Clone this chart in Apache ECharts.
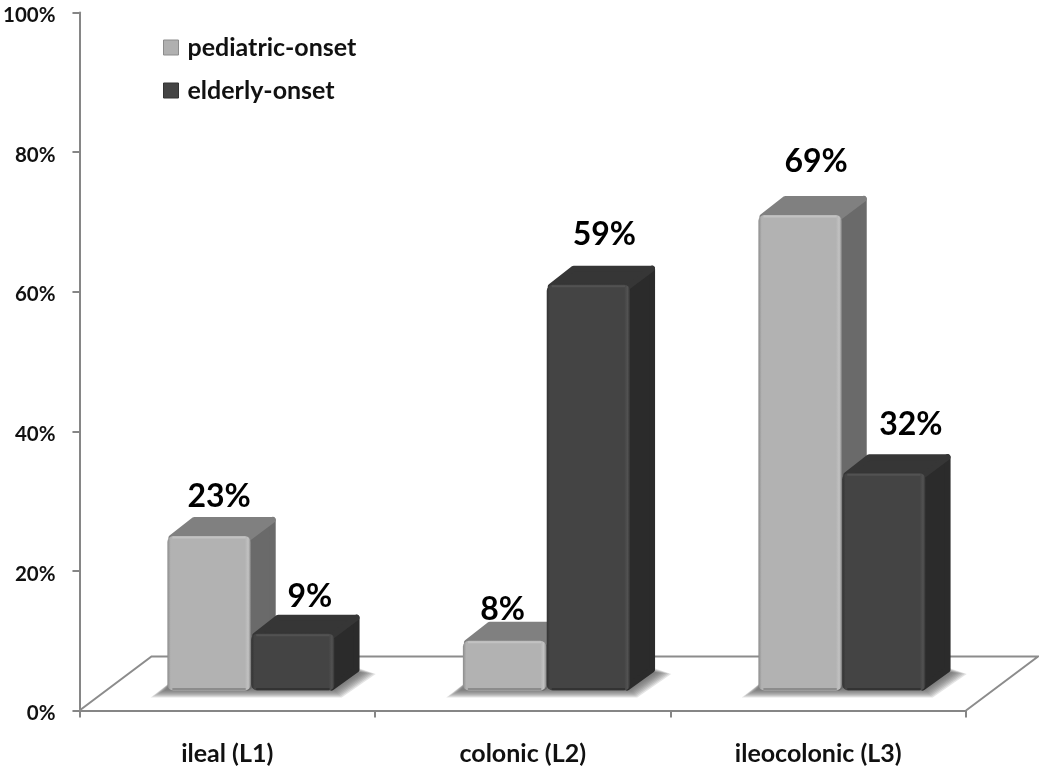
<!DOCTYPE html>
<html>
<head>
<meta charset="utf-8">
<style>html,body{margin:0;padding:0;background:#fff}#c{width:1039px;height:772px;filter:blur(0.5px)}</style>
<script src="https://cdn.jsdelivr.net/npm/echarts@6/dist/echarts.min.js"></script>
</head>
<body>
<div id="c"></div>
<script>
const categories = ['ileal (L1)', 'colonic (L2)', 'ileocolonic (L3)'];
const pediatricOnset = [23, 8, 69];
const elderlyOnset = [9, 59, 32];
const yTicks = [0, 20, 40, 60, 80, 100];

// label nudges from bar centre (x, y from the bar's front top), separate from the data
const pedLabelNudge = [[10, -39], [-2, -31], [16, -53]];
const eldLabelNudge = [[17, -37], [16, -50], [27, -48]];

const FONT = 'Lato, "Open Sans", sans-serif';
const DX = 25, DY = -19, BASE_LIFT = 20, TOP_LIFT = 14;
const FLOOR_DX = 72, FLOOR_DY = -54;

const PED = { front: '#b2b2b2', edge: '#8c8c8c', glow: '#c2c2c2', top: '#808080', side: '#6a6a6a' };
const ELD = { front: '#444444', edge: '#333333', glow: '#525252', top: '#363636', side: '#2b2b2b' };

function frontFill(p) {
  return {
    type: 'linear', x: 0, y: 0, x2: 1, y2: 0,
    colorStops: [
      { offset: 0, color: p.edge }, { offset: 0.04, color: p.front },
      { offset: 0.93, color: p.front }, { offset: 0.97, color: p.glow },
      { offset: 1, color: p.edge }
    ]
  };
}

function barRenderer(pal, values, nudges, side) {
  return function (params, api) {
    const i = api.value(0), v = api.value(1);
    const band = api.size([1, 0])[0];
    const bw = band * 0.282;
    const c = api.coord([i, 0]);
    const mid = c[0] + band * 0.0795;
    const x0 = side < 0 ? mid - bw : mid + 0.5;
    const x1 = x0 + bw;
    const base = c[1] - BASE_LIFT;
    const top = api.coord([i, v])[1] - TOP_LIFT;
    const n = nudges[i];
    return {
      type: 'group',
      children: [
        { type: 'polygon', shape: { points: [[x1 - 3, top + 2], [x1 + DX - 3, top + DY + 3], [x1 + DX - 3, base + DY - 2], [x1 - 3, base - 3]] },
          style: { fill: pal.side, stroke: pal.side, lineWidth: 6, lineJoin: 'round' } },
        { type: 'polygon', shape: { points: [[x0 + 4, top + 2], [x0 + DX + 2, top + DY + 3], [x1 + DX - 3, top + DY + 3], [x1 - 2, top + 2]] },
          style: { fill: pal.top, stroke: pal.top, lineWidth: 6, lineJoin: 'round' } },
        { type: 'rect', shape: { x: x0, y: top, width: bw, height: base - top, r: 6 },
          style: { fill: frontFill(pal) } },
        { type: 'line', shape: { x1: x0 + 5, y1: top + 1.5, x2: x1 - 5, y2: top + 1.5 },
          style: { stroke: pal.glow, lineWidth: 2 } },
        { type: 'line', shape: { x1: x0 + 5, y1: base - 1.5, x2: x1 - 5, y2: base - 1.5 },
          style: { stroke: pal.edge, lineWidth: 2 } },
        { type: 'text', z2: 100,
          style: { text: v + '%', x: (x0 + x1) / 2 + n[0], y: top + n[1], align: 'center', verticalAlign: 'middle',
            fill: '#000', font: 'bold 32px ' + FONT } }
      ]
    };
  };
}

const chart = echarts.init(document.getElementById('c'), null, { renderer: 'canvas' });
chart.setOption({
  animation: false,
  backgroundColor: '#fff',
  grid: { left: 79, right: 73, top: 12.5, bottom: 61.5, containLabel: false },
  legend: {
    left: 158, top: 30, orient: 'vertical', itemWidth: 15, itemHeight: 15, itemGap: 18,
    icon: 'rect', selectedMode: false,
    textStyle: { fontFamily: FONT, fontWeight: 'bold', fontSize: 25, color: '#111', padding: [0, 0, 0, 4] },
    data: [
      { name: 'pediatric-onset', itemStyle: { color: '#b0b0b0', borderColor: '#8c8c8c', borderWidth: 1 } },
      { name: 'elderly-onset', itemStyle: { color: '#444444', borderColor: '#333', borderWidth: 1 } }
    ]
  },
  xAxis: {
    type: 'category', data: categories,
    axisLine: { lineStyle: { color: '#868686', width: 2 } },
    axisTick: { show: true, length: 7, alignWithLabel: false, lineStyle: { color: '#868686', width: 2 } },
    axisLabel: { margin: 31, fontFamily: FONT, fontWeight: 'bold', fontSize: 25, color: '#111' }
  },
  yAxis: {
    type: 'value', min: yTicks[0], max: yTicks[yTicks.length - 1], interval: yTicks[1] - yTicks[0],
    splitLine: { show: false },
    axisLine: { show: true, lineStyle: { color: '#868686', width: 2 } },
    axisTick: { show: true, length: 7, lineStyle: { color: '#868686', width: 2 } },
    axisLabel: { margin: 24, padding: [0, 0, 0, 0], formatter: '{value}%', fontFamily: FONT, fontWeight: 'bold', fontSize: 20.5, color: '#111',
      verticalAlign: 'top', lineHeight: 6 }
  },
  series: [
    { // floor outline
      type: 'custom', silent: true, z: 1, tooltip: { show: false },
      data: [[0, 0]],
      renderItem: function (params, api) {
        const band = api.size([1, 0])[0];
        const a = api.coord([0, 0]), b = api.coord([categories.length - 1, 0]);
        const l = a[0] - band / 2, r = b[0] + band / 2, y = a[1];
        return { type: 'polyline',
          shape: { points: [[l, y], [l + FLOOR_DX, y + FLOOR_DY], [r + FLOOR_DX, y + FLOOR_DY], [r, y]] },
          style: { fill: null, stroke: '#8c8c8c', lineWidth: 2 } };
      }
    },
    { // soft cast shadows on the floor, built from stacked translucent layers
      type: 'custom', silent: true, z: 1,
      data: categories.map(function (_, i) { return [i, 0]; }),
      renderItem: function (params, api) {
        const band = api.size([1, 0])[0];
        const c = api.coord([api.value(0), 0]);
        const mid = c[0] + band * 0.0795;
        const y = c[1];
        const layers = [];
        for (let e = 7; e >= 0; e--) {
          layers.push({ type: 'polygon',
            shape: { points: [[mid - 86 - 2 * e, y - 20 + e], [mid + 84 + e, y - 20 + e], [mid + 111 + 2 * e, y - 38 + 0.2 * e], [mid + 88, y - 42 - e], [mid - 78, y - 30]] },
            style: { fill: 'rgba(95,95,95,0.17)' } });
        }
        return { type: 'group', children: layers };
      }
    },
    {
      name: 'pediatric-onset', type: 'custom', z: 3,
      itemStyle: { color: '#b0b0b0' },
      data: pediatricOnset.map(function (v, i) { return [i, v]; }),
      encode: { x: 0, y: 1 },
      renderItem: barRenderer(PED, pediatricOnset, pedLabelNudge, -1)
    },
    {
      name: 'elderly-onset', type: 'custom', z: 3,
      itemStyle: { color: '#444444' },
      data: elderlyOnset.map(function (v, i) { return [i, v]; }),
      encode: { x: 0, y: 1 },
      renderItem: barRenderer(ELD, elderlyOnset, eldLabelNudge, 1)
    }
  ]
});
</script>
</body>
</html>
